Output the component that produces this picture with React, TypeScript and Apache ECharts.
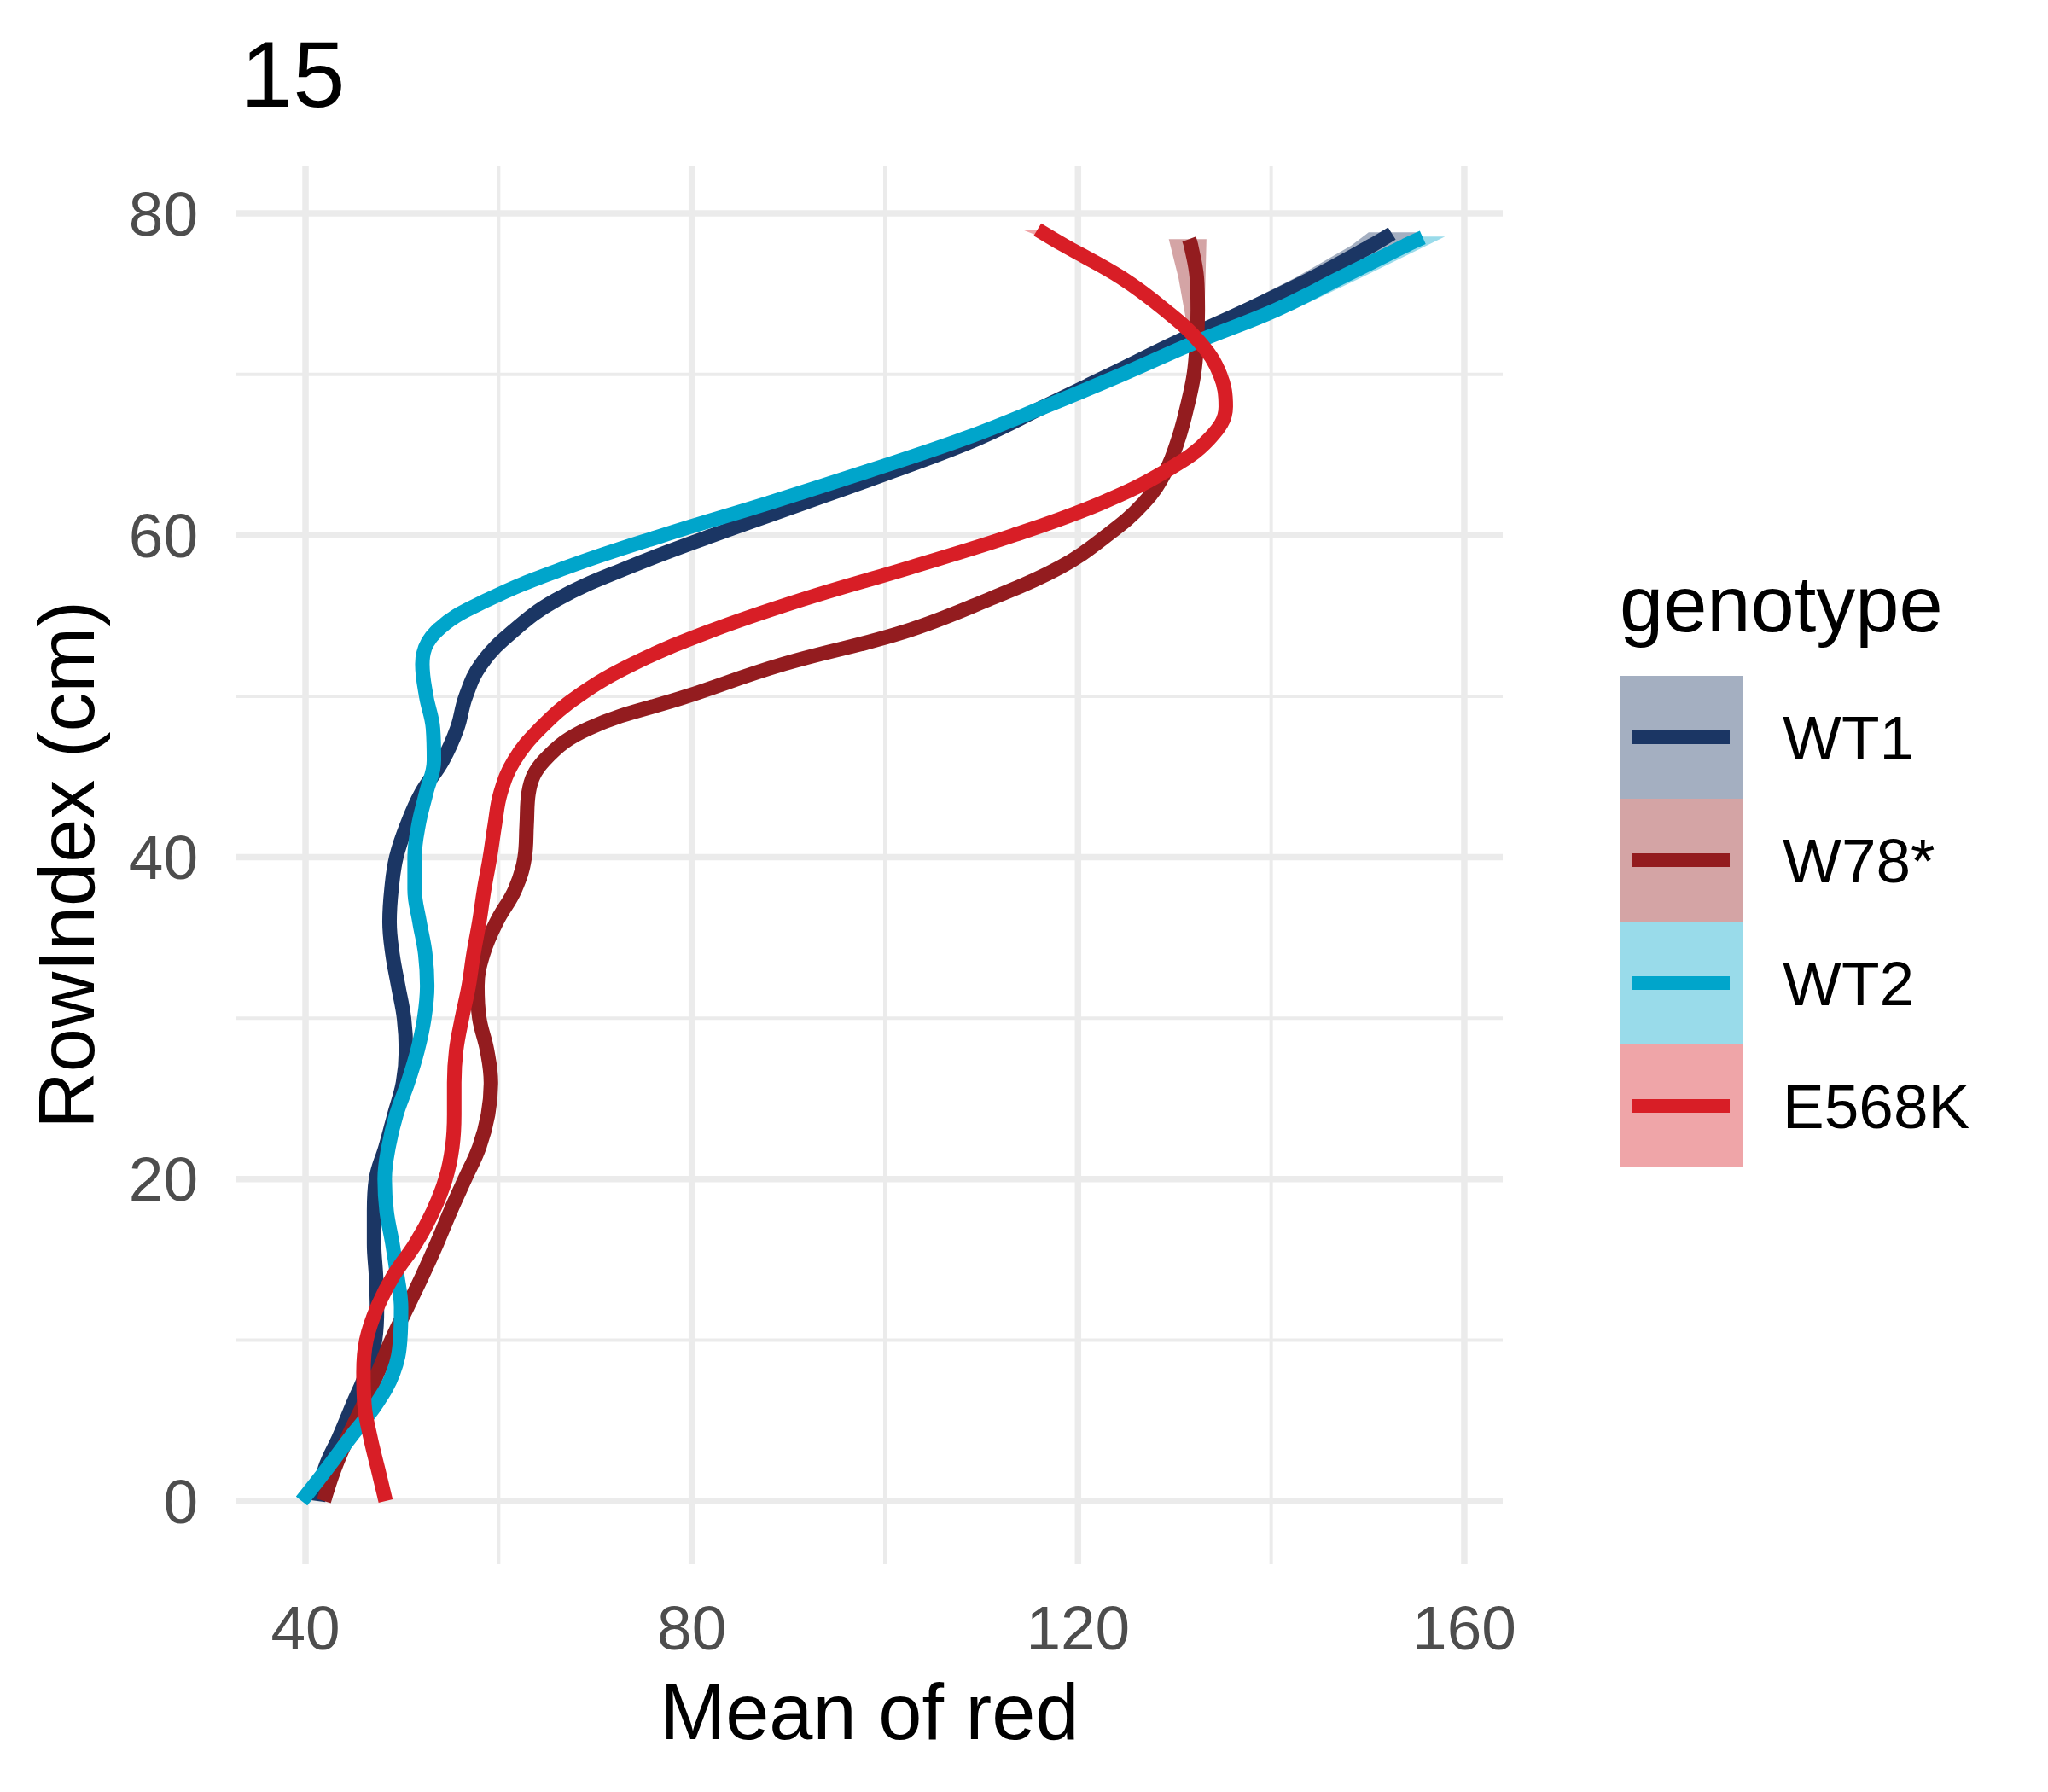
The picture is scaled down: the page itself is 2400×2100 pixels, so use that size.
import React, { useEffect, useRef } from "react";
import * as echarts from "echarts";

const FONT = "'Liberation Sans', Arial, Helvetica, sans-serif";

const genotypes = ["WT1", "W78*", "WT2", "E568K"];
const lineColors = ["#1B3664", "#931C1F", "#00A5CB", "#D81E26"];
const bandColors = [
  "rgba(27,54,100,0.4)",
  "rgba(147,28,31,0.4)",
  "rgba(0,165,203,0.4)",
  "rgba(216,30,38,0.4)",
];

// RowIndex (cm) sampled every 2 cm
const rowIndex = [
  0, 2, 4, 6, 8, 10, 12, 14, 16, 18, 20, 22, 24, 26, 28, 30, 32, 34, 36, 38,
  40, 42, 44, 46, 48, 50, 52, 54, 56, 58, 60, 62, 64, 66, 68, 70, 72, 74, 76, 78,
];

// Mean of red (smoothed) per genotype at rowIndex
const wt1Red = [
  41.3, 42.0, 43.5, 44.9, 46.3, 47.2, 47.4, 47.3, 47.1, 47.1, 47.3, 48.3, 49.2,
  50.1, 50.4, 50.2, 49.6, 49.0, 48.7, 48.9, 49.4, 50.5, 52.0, 54.2, 55.7, 56.6,
  58.2, 61.4, 66.0, 73.4, 82.2, 91.6, 100.9, 109.6, 116.5, 123.4, 130.2, 137.5,
  144.3, 150.4,
];
const w78Red = [
  41.9, 43.0, 44.4, 46.0, 47.5, 48.9, 50.5, 52.1, 53.6, 55.0, 56.5, 58.0, 58.9,
  59.2, 58.8, 58.0, 57.8, 58.4, 59.8, 61.7, 62.7, 62.9, 63.1, 64.7, 69.3, 79.5,
  89.5, 102.0, 110.7, 118.1, 123.0, 126.8, 129.1, 130.4, 131.3, 132.0, 132.3,
  132.4, 132.3, 131.7,
];
const wt2Red = [
  39.6, 42.2, 44.7, 47.3, 49.1, 49.8, 49.9, 49.5, 49.0, 48.4, 48.2, 48.6, 49.4,
  50.6, 51.6, 52.3, 52.6, 52.4, 51.8, 51.3, 51.3, 51.7, 52.5, 53.3, 53.2, 52.5,
  52.1, 53.5, 58.9, 67.0, 77.0, 87.9, 98.3, 108.2, 116.6, 124.6, 132.2, 140.5,
  147.2, 153.9,
];
const e568kRed = [
  48.3, 47.5, 46.7, 46.1, 46.0, 46.3, 47.4, 49.1, 51.4, 53.2, 54.5, 55.2, 55.4,
  55.4, 55.6, 56.2, 56.9, 57.4, 58.0, 58.5, 59.1, 59.6, 60.2, 61.6, 64.3, 68.2,
  73.9, 81.7, 91.4, 102.6, 113.3, 122.4, 129.1, 133.6, 135.3, 134.7, 132.6,
  129.0, 124.5, 118.6,
];
// last point of each smooth (top end)
const topRowIndex = [78.75, 78.4, 78.5, 79.0];
const topRed = [152.5, 131.5, 155.7, 115.8];

// confidence bands (only visible near the top ends)
const wt1BandRow = [74, 76, 78, 78.82];
const wt1BandLo = [135.9, 142.5, 148.3, 150.1];
const wt1BandHi = [138.0, 146.0, 153.0, 155.4];
const w78BandRow = [70, 72, 74, 76, 78.4];
const w78BandLo = [132.0, 131.6, 131.0, 130.4, 129.4];
const w78BandHi = [132.0, 133.0, 133.1, 133.2, 133.3];
const wt2BandRow = [74, 76, 78.55];
const wt2BandLo = [139.5, 146.0, 155.0];
const wt2BandHi = [142.3, 149.3, 158.0];
const e568kBandRow = [77, 78, 79.0];
const e568kBandLo = [121.2, 118.4, 114.2];
const e568kBandHi = [121.2, 118.8, 116.2];

const xTicks = [40, 80, 120, 160];
const xMinor = [60, 100, 140];
const yTicks = [0, 20, 40, 60, 80];
const yMinor = [10, 30, 50, 70];

const X_MIN = 32.84;
const X_MAX = 163.98;
const Y_MIN = -3.92;
const Y_MAX = 82.97;

export default function App() {
  const ref = useRef<HTMLDivElement>(null);

  useEffect(() => {
    if (!ref.current) return;
    const chart = echarts.init(ref.current, undefined, { renderer: "svg" });

    const reds = [wt1Red, w78Red, wt2Red, e568kRed];
    const bands = [
      [wt1BandRow, wt1BandLo, wt1BandHi],
      [w78BandRow, w78BandLo, w78BandHi],
      [wt2BandRow, wt2BandLo, wt2BandHi],
      [e568kBandRow, e568kBandLo, e568kBandHi],
    ];

    const series: any[] = [];

    // grid lines drawn through the axes' scales
    series.push({
      type: "custom",
      name: "_gridX",
      silent: true,
      z: 0,
      clip: false,
      encode: { x: 0, y: 1 },
      data: [...xMinor, ...xTicks].map((v) => [v, 0]),
      renderItem: (params: any, api: any) => {
        const v = api.value(0);
        const p = api.coord([v, 0]);
        const cs = params.coordSys;
        return {
          type: "line",
          shape: { x1: p[0], y1: cs.y, x2: p[0], y2: cs.y + cs.height },
          style: { stroke: "#EBEBEB", lineWidth: xTicks.includes(v) ? 7.5 : 4 },
        };
      },
    });
    series.push({
      type: "custom",
      name: "_gridY",
      silent: true,
      z: 0,
      clip: false,
      encode: { x: 0, y: 1 },
      data: [...yMinor, ...yTicks].map((v) => [40, v]),
      renderItem: (params: any, api: any) => {
        const v = api.value(1);
        const p = api.coord([40, v]);
        const cs = params.coordSys;
        return {
          type: "line",
          shape: { x1: cs.x, y1: p[1], x2: cs.x + cs.width, y2: p[1] },
          style: { stroke: "#EBEBEB", lineWidth: yTicks.includes(v) ? 7.5 : 4 },
        };
      },
    });

    genotypes.forEach((g, i) => {
      const [bRow, bLo, bHi] = bands[i];
      series.push({
        type: "custom",
        name: g,
        silent: true,
        z: 2,
        encode: { x: 0, y: 1 },
        data: [[bHi[bHi.length - 1], bRow[bRow.length - 1]]],
        renderItem: (_params: any, api: any) => {
          const pts: number[][] = [];
          for (let k = 0; k < bRow.length; k++) pts.push(api.coord([bLo[k], bRow[k]]));
          for (let k = bRow.length - 1; k >= 0; k--) pts.push(api.coord([bHi[k], bRow[k]]));
          return {
            type: "polygon",
            shape: { points: pts },
            style: { fill: bandColors[i], stroke: "none" },
          };
        },
      });
      const data = rowIndex.map((r, k) => [reds[i][k], r]);
      data.push([topRed[i], topRowIndex[i]]);
      series.push({
        type: "line",
        name: g,
        z: 2,
        data,
        smooth: 0.4,
        symbol: "none",
        showSymbol: false,
        silent: true,
        lineStyle: { color: lineColors[i], width: 17, cap: "butt" },
        itemStyle: { color: lineColors[i] },
      });
    });

    const option: any = {
      animation: false,
      backgroundColor: "#FFFFFF",
      title: [
        {
          text: "15",
          left: 282,
          top: 31,
          padding: 0,
          textStyle: { fontSize: 110, fontWeight: "normal", color: "#000000", fontFamily: FONT },
        },
        {
          text: "genotype",
          left: 1898,
          top: 662,
          padding: 0,
          textStyle: { fontSize: 92, fontWeight: "normal", color: "#000000", fontFamily: FONT },
        },
      ],
      legend: [
        {
          orient: "vertical",
          left: 1898,
          top: 792,
          padding: 0,
          itemGap: 0,
          itemWidth: 144,
          itemHeight: 144,
          selectedMode: false,
          data: genotypes.map((g, i) => ({
            name: g,
            icon: "rect",
            itemStyle: { color: bandColors[i], borderWidth: 0 },
          })),
          textStyle: {
            fontSize: 73,
            color: "#000000",
            fontFamily: FONT,
            padding: [0, 0, 0, 42],
          },
        },
        {
          orient: "vertical",
          left: 1912,
          top: 856,
          padding: 0,
          itemGap: 128,
          itemWidth: 115,
          itemHeight: 16,
          selectedMode: false,
          formatter: () => "",
          data: genotypes.map((g, i) => ({
            name: g,
            icon: "rect",
            itemStyle: { color: lineColors[i], borderWidth: 0 },
          })),
          textStyle: { fontSize: 2, lineHeight: 2 },
        },
      ],
      grid: {
        left: 277,
        top: 194,
        width: 1484,
        height: 1639,
        containLabel: false,
        outerBoundsMode: "none",
      },
      xAxis: {
        type: "value",
        min: X_MIN,
        max: X_MAX,
        name: "Mean of red",
        nameLocation: "middle",
        nameGap: 127,
        nameTextStyle: { fontSize: 92, color: "#000000", fontFamily: FONT },
        axisLine: { show: false },
        axisTick: { show: false },
        splitLine: { show: false },
        axisLabel: {
          customValues: xTicks,
          fontSize: 73,
          color: "#4D4D4D",
          fontFamily: FONT,
          margin: 38,
        },
      },
      yAxis: {
        type: "value",
        min: Y_MIN,
        max: Y_MAX,
        name: "RowIndex (cm)",
        nameLocation: "middle",
        nameGap: 153,
        nameRotate: 90,
        nameTextStyle: { fontSize: 92, color: "#000000", fontFamily: FONT },
        axisLine: { show: false },
        axisTick: { show: false },
        splitLine: { show: false },
        axisLabel: {
          customValues: yTicks,
          fontSize: 73,
          color: "#4D4D4D",
          fontFamily: FONT,
          margin: 45,
        },
      },
      series,
    };

    chart.setOption(option);
    return () => {
      chart.dispose();
    };
  }, []);

  return (
    <div
      ref={ref}
      style={{ position: "absolute", left: 0, top: 0, width: 2400, height: 2100, background: "#FFFFFF" }}
    />
  );
}
